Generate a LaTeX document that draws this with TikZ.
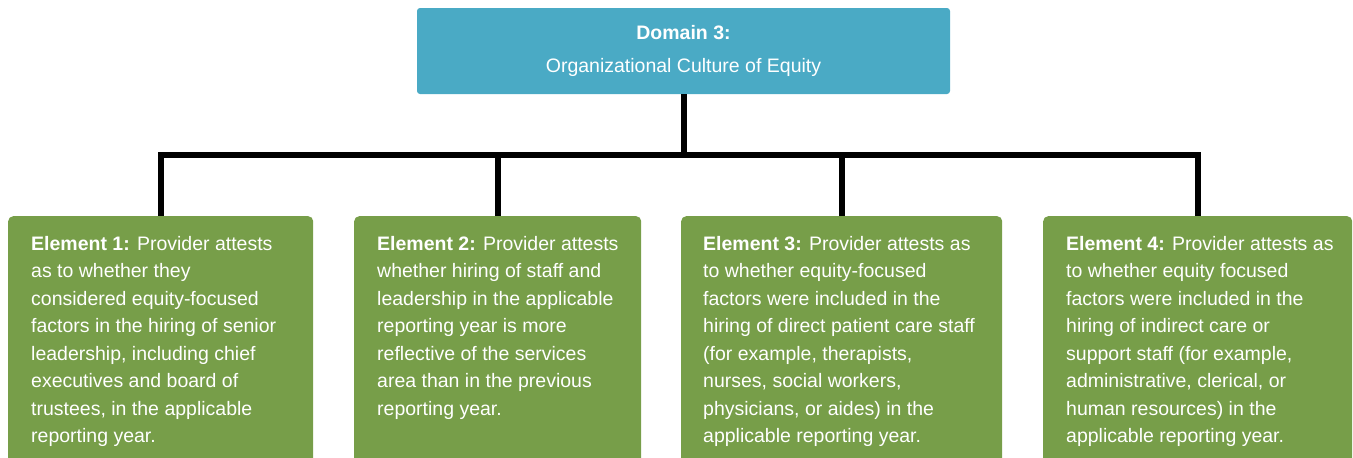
\documentclass[tikz,border=0pt]{standalone}
\usepackage{fontspec}
\setmainfont{Liberation Sans}
\definecolor{domainteal}{HTML}{4AAAC5}
\definecolor{elemgreen}{HTML}{779E49}
\begin{document}
\begin{tikzpicture}[x=1pt,y=-1pt,
	domainbox/.style={fill=domainteal, rounded corners=3pt, minimum width=533pt, minimum height=86pt, inner sep=0pt, text=white, align=center, font=\fontsize{19.5}{33}\selectfont},
	elembox/.style={fill=elemgreen, rounded corners=5pt, minimum height=260pt, inner sep=0pt, anchor=north west},
	elemtext/.style={text=white, align=left, inner sep=0pt, anchor=north west, font=\fontsize{19.5}{27.5}\selectfont},
	link/.style={line width=6pt}]
		
		\useasboundingbox (0,0) rectangle (1353,458);
		\clip (0,0) rectangle (1353,458);
		
		\node[domainbox] (dom) at (683.5,51) {\textbf{Domain 3:}\\Organizational Culture of Equity};
		
		\node[elembox, minimum width=305pt] (e1) at (8,216) {};
		\node[elembox, minimum width=287pt] (e2) at (354,216) {};
		\node[elembox, minimum width=321pt] (e3) at (681,216) {};
		\node[elembox, minimum width=309pt] (e4) at (1043,216) {};
		
		\node[elemtext] (t1) at (31,236) {\textbf{Element 1:} Provider attests\\as to whether they\\considered equity-focused\\factors in the hiring of senior\\leadership, including chief\\executives and board of\\trustees, in the applicable\\reporting year.};
		\node[elemtext] (t2) at (377,236) {\textbf{Element 2:} Provider attests\\whether hiring of staff and\\leadership in the applicable\\reporting year is more\\reflective of the services\\area than in the previous\\reporting year.};
		\node[elemtext] (t3) at (703,236) {\textbf{Element 3:} Provider attests as\\to whether equity-focused\\factors were included in the\\hiring of direct patient care staff\\(for example, therapists,\\nurses, social workers,\\physicians, or aides) in the\\applicable reporting year.};
		\node[elemtext] (t4) at (1066,236) {\textbf{Element 4:} Provider attests as\\to whether equity focused\\factors were included in the\\hiring of indirect care or\\support staff (for example,\\administrative, clerical, or\\human resources) in the\\applicable reporting year.};
		
		\coordinate (hub) at (683.5,155);
		\draw[link] (dom.south) -- (hub);
		\draw[link] (hub) -| (e1.north);
		\draw[link] (hub) -| (e2.north);
		\draw[link] (hub) -| (e3.north);
		\draw[link] (hub) -| (e4.north);
		
		\end{tikzpicture}
\end{document}
